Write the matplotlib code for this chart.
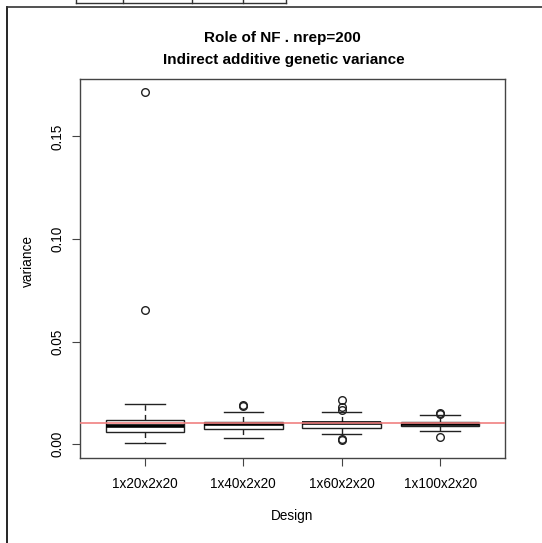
import matplotlib
matplotlib.use("Agg")
import matplotlib.pyplot as plt
from matplotlib.lines import Line2D

designs = ["1x20x2x20", "1x40x2x20", "1x60x2x20", "1x100x2x20"]
q1 = [0.0060, 0.0073, 0.0077, 0.0089]
med = [0.0088, 0.0098, 0.0101, 0.0099]
q3 = [0.0117, 0.0107, 0.0109, 0.0109]
whislo = [0.0003, 0.0031, 0.0047, 0.0063]
whishi = [0.0195, 0.0155, 0.0156, 0.0141]
fliers = [[0.1717, 0.0654],
          [0.0188, 0.0185],
          [0.0215, 0.0180, 0.0166, 0.0024, 0.0021],
          [0.0150, 0.0146, 0.0034]]
ref_value = 0.0104
yticks = [0.00, 0.05, 0.10, 0.15]

plt.rcParams['font.family'] = ['Liberation Sans', 'DejaVu Sans']

fig = plt.figure(figsize=(5.42, 5.43), dpi=100)
ax = fig.add_axes([80 / 542, 85 / 543, 425 / 542, 379 / 543])

stats = []
for i in range(len(designs)):
    stats.append(dict(med=med[i], q1=q1[i], q3=q3[i], whislo=whislo[i],
                      whishi=whishi[i], fliers=fliers[i], label=designs[i]))

pos = list(range(1, len(designs) + 1))
ax.bxp(stats, positions=pos, widths=0.8, capwidths=0.4, patch_artist=True,
       boxprops=dict(facecolor='white', edgecolor='#222222', linewidth=1),
       medianprops=dict(color='black', linewidth=2.6),
       whiskerprops=dict(color='#222222', linewidth=1, linestyle=(0, (4, 3))),
       capprops=dict(color='#222222', linewidth=1),
       flierprops=dict(marker='o', markerfacecolor='none', markeredgecolor='#222222',
                       markersize=5.5, markeredgewidth=1))

ax.axhline(ref_value, color='#f08080', linewidth=1.2, zorder=5)

ax.set_xlim(0.34, 4.66)
ax.set_ylim(-0.0068, 0.178)
ax.set_xticks(pos)
ax.set_xticklabels(designs, fontsize=9.8)
ax.set_yticks(yticks)
ax.set_yticklabels(["%.2f" % v for v in yticks], fontsize=9.8, rotation=90, va='center')
ax.tick_params(axis='both', direction='out', length=6, width=0.8, color='#444444')
ax.tick_params(axis='x', pad=8)
ax.tick_params(axis='y', pad=5)
for sp in ax.spines.values():
    sp.set_color('#444444')
    sp.set_linewidth(1)

ax.set_xlabel("Design", fontsize=9.8)
ax.xaxis.set_label_coords(0.5, -0.135)
ax.set_ylabel("variance", fontsize=9.8)
ax.yaxis.set_label_coords(-0.105, 0.52)

fig.text(282 / 542, 1 - 38 / 543, "Role of NF . nrep=200", ha='center', va='center',
         fontsize=11, fontweight='bold')
fig.text(284 / 542, 1 - 60 / 543, "Indirect additive genetic variance", ha='center', va='center',
         fontsize=11, fontweight='bold')

# screenshot frame around the plot
W, H = 542, 543
fig.add_artist(Line2D([7 / W, 7 / W], [0, 1 - 7 / H], color='black', linewidth=1.2))
fig.add_artist(Line2D([7 / W, 1], [1 - 7 / H, 1 - 7 / H], color='#333333', linewidth=1.2))
# bits of a table cut off at the top
for xp in [76, 123, 192, 243, 286]:
    fig.add_artist(Line2D([xp / W, xp / W], [1 - 3 / H, 1], color='#333333', linewidth=1))
fig.add_artist(Line2D([76 / W, 286 / W], [1 - 3 / H, 1 - 3 / H], color='#333333', linewidth=1))

fig.savefig("out.png", dpi=100)
